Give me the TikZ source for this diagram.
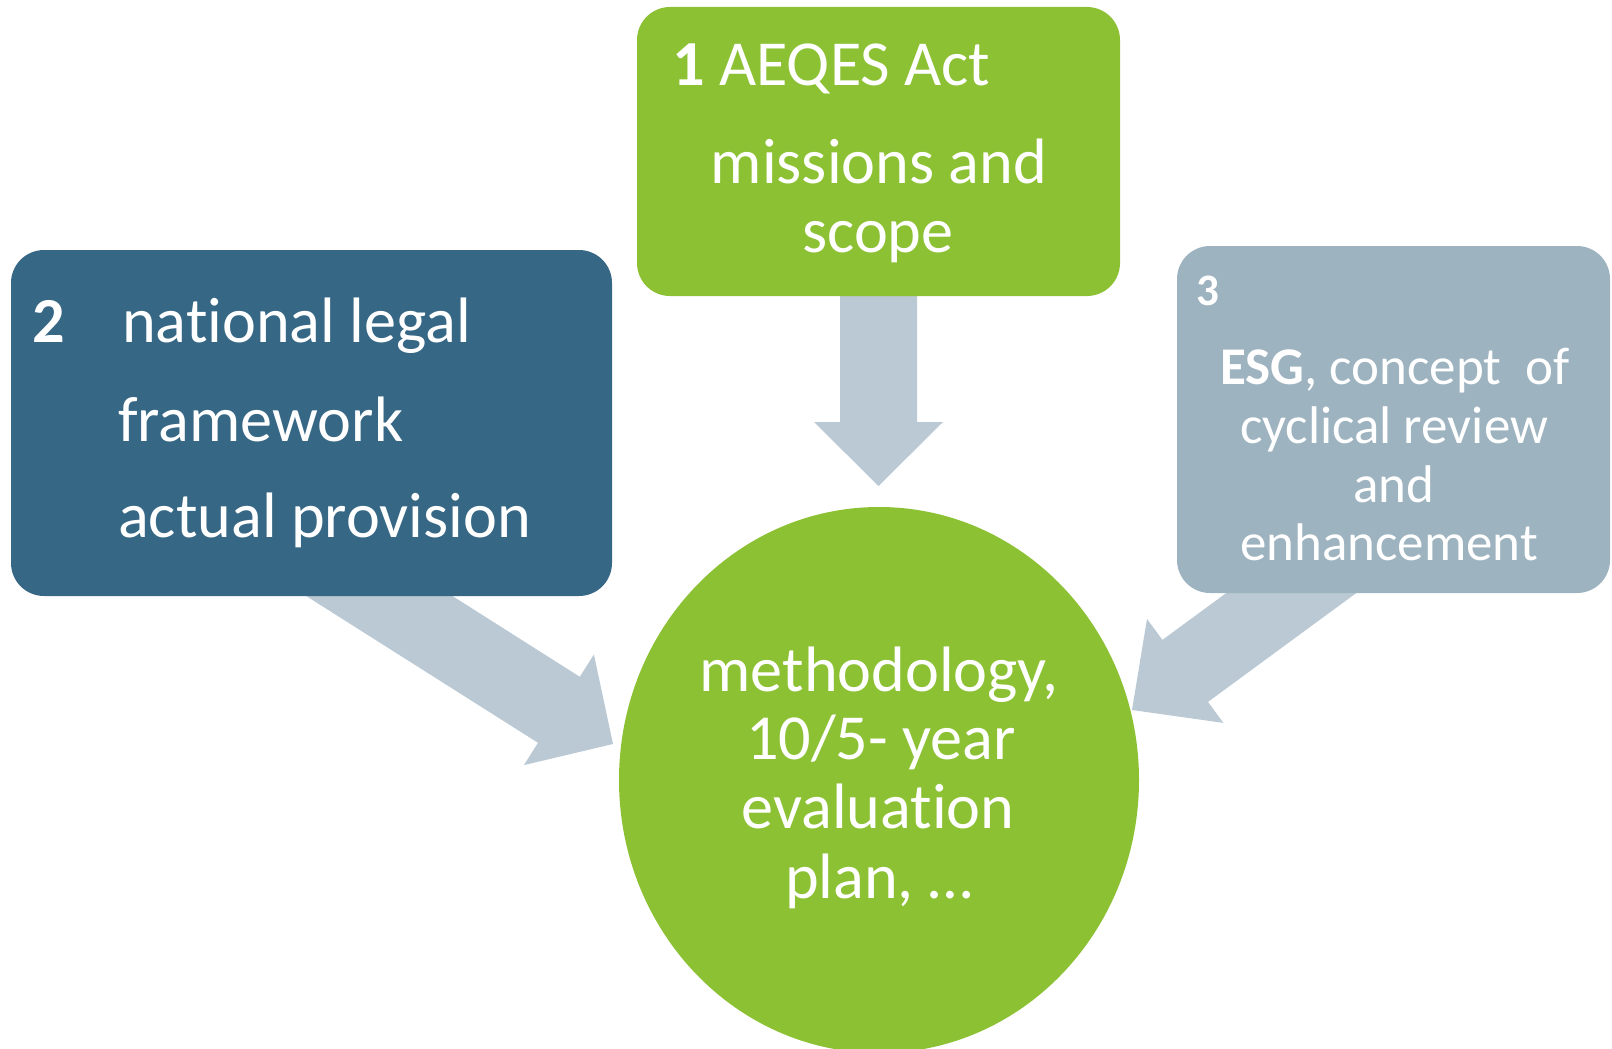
\documentclass[tikz,border=0pt]{standalone}
\usepackage{fontspec}
\setmainfont{Carlito}[Ligatures=NoCommon]
\usetikzlibrary{shapes.geometric}
\definecolor{cgreen}{RGB}{140,193,52}
\definecolor{cblue}{RGB}{54,103,133}
\definecolor{cgrey}{RGB}{158,179,192}
\definecolor{carrow}{RGB}{186,201,212}
\begin{document}
\begin{tikzpicture}[x=1pt,y=-1pt,
  box/.style={rectangle, rounded corners=33pt, inner sep=0pt, draw=none},
  blockarrow/.style={fill=carrow, draw=none},
  big/.style={text=white, inner sep=0pt, font=\fontsize{64.2}{70}\selectfont},
  mid/.style={text=white, inner sep=0pt, font=\fontsize{53}{58}\selectfont},
  small/.style={text=white, inner sep=0pt, font=\fontsize{45}{50}\selectfont\bfseries}]
\useasboundingbox (0,0) rectangle (1612,1049);

% block arrows (drawn first, boxes cover their tails)
\coordinate (a1s1) at (840,290);
\coordinate (a1s2) at (917,290);
\fill[blockarrow] (a1s1) -- (840,422) -- (814,422) -- (878.5,486) -- (943,422) -- (917,422) -- (a1s2) -- cycle;

\coordinate (a2s1) at (443,590);
\coordinate (a2s2) at (296.7,590);
\fill[blockarrow] (a2s1) -- (579.8,676.8) -- (593.9,654.5) -- (613,744) -- (523.9,765.1) -- (538,742.8) -- (a2s2) -- cycle;

\coordinate (a3s1) at (1235.8,586);
\coordinate (a3s2) at (1365.8,586);
\fill[blockarrow] (a3s1) -- (1162.4,639.9) -- (1147,618.9) -- (1132,710) -- (1223.4,722.9) -- (1208,701.9) -- (a3s2) -- cycle;

% boxes
\node[box, fill=cgreen, minimum width=483pt, minimum height=289pt] (b1) at (878.5,151.5) {};
\node[box, fill=cblue, minimum width=601pt, minimum height=346pt] (b2) at (311.5,423) {};
\node[box, fill=cgrey, minimum width=433pt, minimum height=347pt] (b3) at (1393.5,419.5) {};
\node[ellipse, fill=cgreen, draw=none, inner sep=0pt, minimum width=520pt, minimum height=546pt] (c) at (879,780) {};

% box 1 text
\node[big, anchor=base west] (t1a) at (672,85) {\textbf{1} AEQES Act};
\node[big, anchor=base] (t1b) at (879,183) {missions and};
\node[big, anchor=base] (t1c) at (878,252) {scope};

% box 2 text
\node[big, anchor=base west] (t2n) at (32,342) {\textbf{2}};
\node[big, anchor=base west] (t2a) at (122,342) {national legal};
\node[big, anchor=base west] (t2b) at (118,441) {framework};
\node[big, anchor=base west] (t2c) at (118,537) {actual provision};

% box 3 text
\node[small, anchor=base west] (t3n) at (1196,305) {3};
\node[mid, anchor=base] (t3a) at (1395,384) {\textbf{ESG}, concept\ \ of};
\node[mid, anchor=base] (t3b) at (1394,443) {cyclical review};
\node[mid, anchor=base] (t3c) at (1394,502) {and};
\node[mid, anchor=base] (t3d) at (1389,560) {enhancement};

% circle text
\node[big, anchor=base] (m1) at (879,691) {methodology,};
\node[big, anchor=base] (m2) at (881,759) {10/5- year};
\node[big, anchor=base] (m3) at (878,828) {evaluation};
\node[big, anchor=base] (m4) at (879,898) {plan, …};
\end{tikzpicture}
\end{document}
